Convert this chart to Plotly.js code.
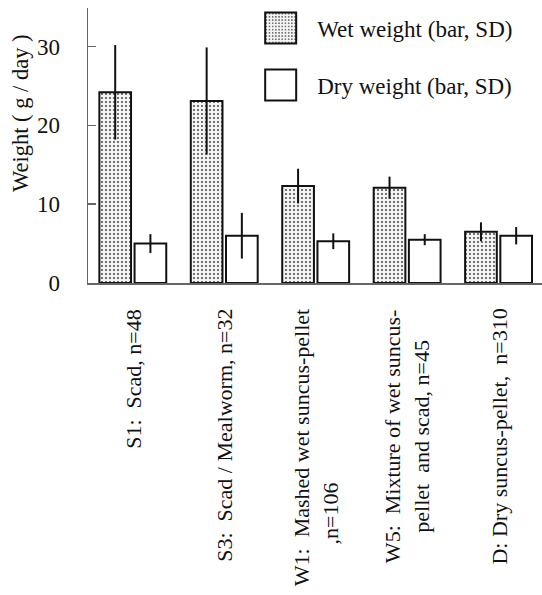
<!DOCTYPE html>
<html><head><meta charset="utf-8">
<script src="https://cdn.plot.ly/plotly-3.0.1.min.js"></script>
<style>html,body{margin:0;padding:0;background:#fff}</style>
</head><body><div id="chart" style="width:542px;height:595px"></div>
<script>
const categories = ["S1", "S3", "W1", "W5", "D"];
const NB = "\u00a0";
const categoryLabels = [
  "S1:" + NB + NB + "Scad, n=48",
  "S3:" + NB + NB + "Scad / Mealworm, n=32",
  "W1:" + NB + NB + "Mashed wet suncus-pellet<br>,n=106" + NB.repeat(24),
  "W5:" + NB + NB + "Mixture of wet suncus-<br>pellet" + NB + NB + "and scad, n=45",
  "D: Dry suncus-pellet," + NB + NB + "n=310"
];
const wetMean = [24.2, 23.1, 12.3, 12.1, 6.5];
const wetSD   = [6.0, 6.8, 2.2, 1.4, 1.2];
const dryMean = [5.0, 6.0, 5.3, 5.5, 6.0];
const drySD   = [1.2, 2.9, 1.0, 0.7, 1.1];
const seriesNames = ["Wet weight (bar, SD)", "Dry weight (bar, SD)"];
const yTicks = [0, 10, 20, 30];
const yTitle = "Weight ( g / day )";

const FONT = "Liberation Serif";

const traces = [
  {
    type: "bar", name: seriesNames[0], x: categories, y: wetMean,
    legendgroup: "a",
    error_y: {type: "data", array: wetSD, visible: true, color: "#111", thickness: 2, width: 0},
    marker: {color: "#fff", line: {color: "#111", width: 2},
      pattern: {shape: ".", size: 4, solidity: 0.16, fgcolor: "#333", bgcolor: "#f4f4f4", fillmode: "replace"}}
  },
  {
    type: "bar", name: seriesNames[1], x: categories, y: dryMean,
    legendgroup: "b",
    error_y: {type: "data", array: drySD, visible: true, color: "#111", thickness: 2, width: 0},
    marker: {color: "#fff", line: {color: "#111", width: 2}}
  }
];

const annotations = categories.map((c, i) => ({
  x: c, xref: "x", y: 0, yref: "paper", yshift: -24,
  xanchor: "center", yanchor: "top", textangle: -90, align: "center",
  text: categoryLabels[i], showarrow: false,
  font: {family: FONT, size: 22, color: "#111"}
}));
annotations.push({
  x: -0.15, xref: "paper", y: 0.618, yref: "paper",
  xanchor: "center", yanchor: "middle", textangle: -90,
  text: yTitle, showarrow: false,
  font: {family: FONT, size: 22.5, color: "#111"}
});

const layout = {
  width: 542, height: 595,
  margin: {l: 88, r: 0, t: 8, b: 312},
  paper_bgcolor: "#fff", plot_bgcolor: "#fff",
  font: {family: FONT, size: 22, color: "#111"},
  barmode: "group", bargap: 0.23, bargroupgap: 0.1,
  showlegend: true,
  legend: {x: 0.344, xanchor: "left", y: 1.005, yanchor: "top",
    itemwidth: 63, tracegroupgap: 24, traceorder: "grouped",
    font: {family: FONT, size: 23, color: "#111"}, bgcolor: "rgba(0,0,0,0)"},
  xaxis: {type: "category", range: [-0.49, 4.475], showticklabels: false, ticks: "",
    showline: true, linecolor: "#666", linewidth: 1.5, showgrid: false, zeroline: false, fixedrange: true},
  yaxis: {range: [0, 34.9], tickvals: yTicks, ticktext: yTicks.map(String), ticks: "inside", ticklen: 8,
    tickcolor: "#666", tickwidth: 1.5, showline: true, linecolor: "#666", linewidth: 1.5,
    showgrid: false, zeroline: false, ticklabelstandoff: 22,
    tickfont: {family: FONT, size: 23, color: "#111"},
    fixedrange: true},
  annotations: annotations
};

Plotly.newPlot("chart", traces, layout, {displayModeBar: false, staticPlot: true}).then(() => {
  document.querySelectorAll(".legend .legendpoints path").forEach(p => {
    p.setAttribute("d", "M15.5,15.5H-15.5V-15.5H15.5Z");
    p.style.strokeWidth = "2px";
  });
});
</script>
</body></html>
